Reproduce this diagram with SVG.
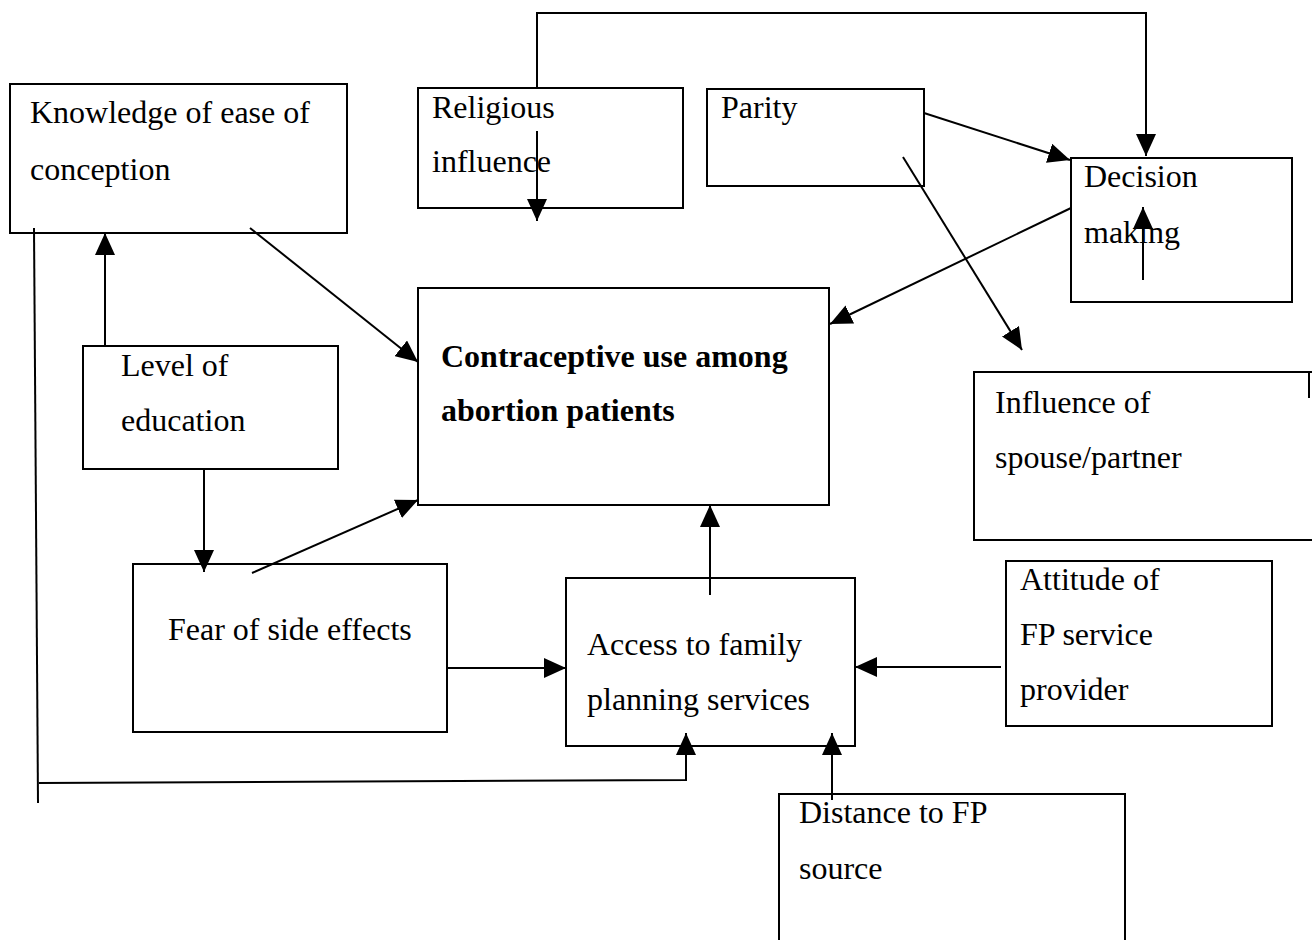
<svg xmlns="http://www.w3.org/2000/svg" width="1312" height="940" viewBox="0 0 1312 940">
<style>
.box{fill:#fff;stroke:#000;stroke-width:2}
.t{font-family:"Liberation Serif","Times New Roman",serif;font-size:32px;fill:#000}
.b{font-weight:bold}
.c{fill:none;stroke:#000;stroke-width:2}
</style>
<defs>
<marker id="ah" viewBox="0 0 22 20" refX="22" refY="10" markerWidth="22" markerHeight="20" orient="auto" markerUnits="userSpaceOnUse">
<path d="M0,0 L22,10 L0,20 z" fill="#000"/>
</marker>
</defs>
<rect width="1312" height="940" fill="#fff"/>
<g id="knowledge"><rect class="box" x="10" y="84" width="337" height="149"/><text class="t" x="30" y="123">Knowledge of ease of</text><text class="t" x="30" y="180">conception</text></g>
<g id="religious"><rect class="box" x="418" y="88" width="265" height="120"/><text class="t" x="432" y="118">Religious</text><text class="t" x="432" y="172">influence</text></g>
<g id="parity"><rect class="box" x="707" y="89" width="217" height="97"/><text class="t" x="721" y="118">Parity</text></g>
<g id="decision"><rect class="box" x="1071" y="158" width="221" height="144"/><text class="t" x="1084" y="187">Decision</text><text class="t" x="1084" y="243">making</text></g>
<g id="contraceptive"><rect class="box" x="418" y="288" width="411" height="217"/><text class="t b" x="441" y="367">Contraceptive use among</text><text class="t b" x="441" y="421">abortion patients</text></g>
<g id="education"><rect class="box" x="83" y="346" width="255" height="123"/><text class="t" x="121" y="376">Level of</text><text class="t" x="121" y="431">education</text></g>
<g id="spouse"><rect class="box" x="974" y="372" width="345" height="168"/><line x1="1309" y1="372" x2="1309" y2="398" stroke="#000" stroke-width="2"/><text class="t" x="995" y="413">Influence of</text><text class="t" x="995" y="468">spouse/partner</text></g>
<g id="fear"><rect class="box" x="133" y="564" width="314" height="168"/><text class="t" x="168" y="640">Fear of side effects</text></g>
<g id="access"><rect class="box" x="566" y="578" width="289" height="168"/><text class="t" x="587" y="655">Access to family</text><text class="t" x="587" y="710">planning services</text></g>
<g id="attitude"><rect class="box" x="1006" y="561" width="266" height="165"/><text class="t" x="1020" y="590">Attitude of</text><text class="t" x="1020" y="645">FP service</text><text class="t" x="1020" y="700">provider</text></g>
<g id="distance"><rect class="box" x="779" y="794" width="346" height="160"/><text class="t" x="799" y="823">Distance to FP</text><text class="t" x="799" y="879">source</text></g>
<g id="connectors">
<path class="c" d="M537,88 V13 H1146 V156" marker-end="url(#ah)"/>
<path class="c" d="M537,131 V221" marker-end="url(#ah)"/>
<path class="c" d="M924,113 L1070,160" marker-end="url(#ah)"/>
<path class="c" d="M903,157 L1022,350" marker-end="url(#ah)"/>
<path class="c" d="M1071,208 L830,324" marker-end="url(#ah)"/>
<path class="c" d="M1143,280 V207" marker-end="url(#ah)"/>
<path class="c" d="M250,228 L418,362" marker-end="url(#ah)"/>
<path class="c" d="M105,346 V233" marker-end="url(#ah)"/>
<path class="c" d="M204,469 V572" marker-end="url(#ah)"/>
<path class="c" d="M252,573 L418,500" marker-end="url(#ah)"/>
<path class="c" d="M447,668 H566" marker-end="url(#ah)"/>
<path class="c" d="M710,595 V505" marker-end="url(#ah)"/>
<path class="c" d="M1001,667 H855" marker-end="url(#ah)"/>
<path class="c" d="M34,228 L38,803"/>
<path class="c" d="M39,783 L686,780 V733" marker-end="url(#ah)"/>
<path class="c" d="M832,800 V733" marker-end="url(#ah)"/>
</g>
</svg>
